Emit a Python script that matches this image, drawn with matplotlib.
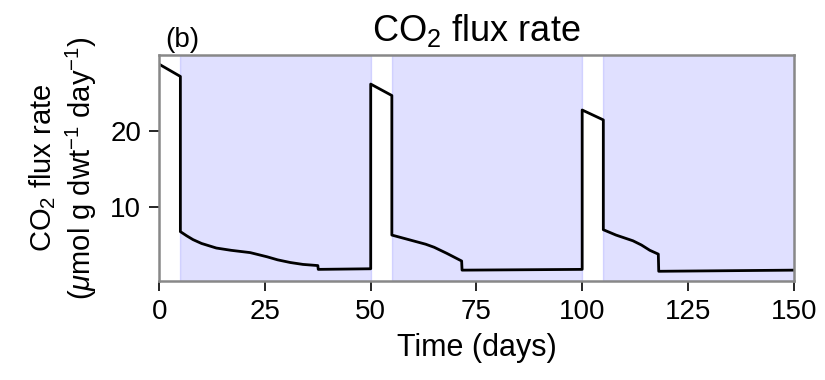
import matplotlib.pyplot as plt

plt.rcParams['font.family'] = ['Liberation Sans', 'DejaVu Sans']
plt.rcParams['mathtext.fontset'] = 'custom'
plt.rcParams['mathtext.rm'] = 'Liberation Sans'
plt.rcParams['mathtext.it'] = 'Liberation Sans:italic'

# CO2 flux rate time series (days, umol g dwt-1 day-1)
t = [0, 5, 5, 6.5, 8, 10, 13.5, 17, 21.5, 25.5, 28, 31, 34, 37.5, 37.6, 50,
     50, 55, 55, 58, 61, 63, 65, 68, 71.5, 71.6, 100,
     100, 105, 105, 108, 112, 114, 116, 118, 118.1, 150]
flux = [28.7, 27.1, 6.75, 6.2, 5.7, 5.2, 4.6, 4.3, 4.0, 3.45, 3.05, 2.7, 2.45, 2.3, 1.8, 1.88,
        26.1, 24.6, 6.3, 5.85, 5.4, 5.1, 4.7, 3.9, 2.9, 1.7, 1.8,
        22.7, 21.4, 7.0, 6.3, 5.55, 5.0, 4.3, 3.8, 1.55, 1.7]
# shaded (dark) periods
spans = [(5, 50), (55, 100), (105, 150)]

fig = plt.figure(figsize=(8.25, 3.8), dpi=100)
ax = fig.add_axes([0.193, 0.261, 0.769, 0.594])

for a, b in spans:
    ax.axvspan(a, b, color='b', alpha=0.12, lw=1)
ax.plot(t, flux, color='black', lw=2)

ax.set_xlim(0, 150)
ax.set_ylim(0.3, 29.9)
ax.set_xticks([0, 25, 50, 75, 100, 125, 150])
ax.set_yticks([10, 20])
ax.tick_params(labelsize=20, length=7, width=1.2, pad=6)
for s in ax.spines.values():
    s.set_color('#888888')
    s.set_linewidth(1.8)

ax.set_xlabel('Time (days)', fontsize=22, labelpad=6)
ax.set_ylabel('CO$_2$ flux rate\n($\\mu$mol g dwt$^{-1}$ day$^{-1}$)', fontsize=21, labelpad=8)
ax.set_title('CO$_2$ flux rate', fontsize=26, pad=10)
ax.text(0.01, 1.01, '(b)', transform=ax.transAxes, fontsize=20, ha='left', va='bottom')

fig.savefig('out.png', dpi=100)
